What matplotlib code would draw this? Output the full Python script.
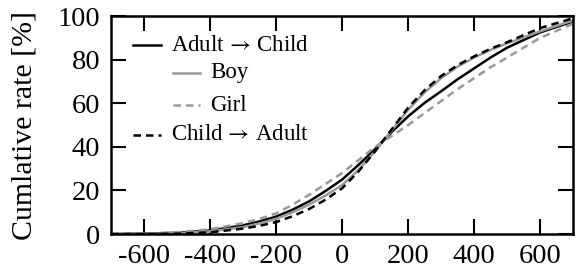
import matplotlib
matplotlib.use("Agg")
import matplotlib.pyplot as plt
from matplotlib.lines import Line2D

plt.rcParams['font.family'] = ['Liberation Serif', 'DejaVu Serif']
plt.rcParams['mathtext.fontset'] = 'stix'

x = [-700, -600, -500, -400, -300, -250, -200, -150, -100, -50, 0, 50, 100, 150,
     200, 250, 300, 350, 400, 450, 500, 600, 700]

adult_child = [0, 0.2, 0.6, 1.6, 4.0, 5.8, 8.0, 11.2, 15.0, 19.8, 25.0, 31.8, 39.0, 46.8,
               54.0, 60.2, 65.5, 71.0, 76.0, 81.0, 85.5, 92.5, 97.5]
boy = [0, 0.1, 0.4, 1.2, 3.2, 4.9, 7.0, 10.0, 13.5, 17.7, 22.5, 29.5, 38.0, 47.5,
       57.0, 65.0, 71.5, 76.8, 81.0, 84.5, 87.5, 93.0, 98.0]
girl = [0, 0.2, 0.8, 2.2, 5.0, 7.0, 9.5, 13.5, 18.0, 23.0, 28.0, 34.0, 40.0, 45.0,
        50.0, 55.5, 61.0, 66.5, 71.5, 76.5, 81.0, 90.0, 96.5]
child_adult = [0, 0.0, 0.2, 0.8, 2.5, 3.8, 5.5, 8.2, 11.5, 15.8, 21.0, 28.8, 38.0, 48.0,
               58.0, 66.0, 72.5, 77.5, 81.5, 85.0, 88.0, 94.5, 99.0]

xticks = [-600, -400, -200, 0, 200, 400, 600]
yticks = [0, 20, 40, 60, 80, 100]

fig = plt.figure(figsize=(5.76, 2.77), dpi=100)
ax = fig.add_axes([0.193, 0.155, 0.802, 0.787])

ax.plot(x, adult_child, color='black', lw=1.8, ls='-')
ax.plot(x, boy, color='#999999', lw=1.8, ls='-')
ax.plot(x, girl, color='#999999', lw=1.8, ls=(0, (3, 2)))
ax.plot(x, child_adult, color='black', lw=1.8, ls=(0, (3, 2)))

ax.set_xlim(-700, 700)
ax.set_ylim(0, 100)
ax.set_xticks(xticks)
ax.set_yticks(yticks)
ax.set_xticklabels([str(v) for v in xticks])
ax.tick_params(direction='in', length=11, width=1.5, labelsize=20.5,
               top=True, right=True)
ax.tick_params(axis='y', pad=8)
ax.tick_params(axis='x', pad=7)
for s in ax.spines.values():
    s.set_linewidth(1.8)
ax.set_ylabel('Cumlative rate [%]', fontsize=21.5, labelpad=14)

# legend (manual, with indented sub-entries)
entries = [
    ('Adult$\\,\\rightarrow\\,$Child', 'black', '-', 0.0),
    ('Boy', '#999999', '-', 0.085),
    ('Girl', '#999999', (0, (3, 2)), 0.085),
    ('Child$\\,\\rightarrow\\,$Adult', 'black', (0, (3, 2)), 0.0),
]
ys = [0.865, 0.74, 0.59, 0.455]
for (lab, c, ls, ind), yy in zip(entries, ys):
    x0 = 0.048 + ind
    ax.add_line(Line2D([x0, x0 + 0.06], [yy, yy], transform=ax.transAxes,
                       color=c, ls=ls, lw=1.8))
    ax.text(x0 + 0.082, yy, lab, transform=ax.transAxes, fontsize=16.5,
            va='center', ha='left')

fig.savefig('out.png', dpi=100)
